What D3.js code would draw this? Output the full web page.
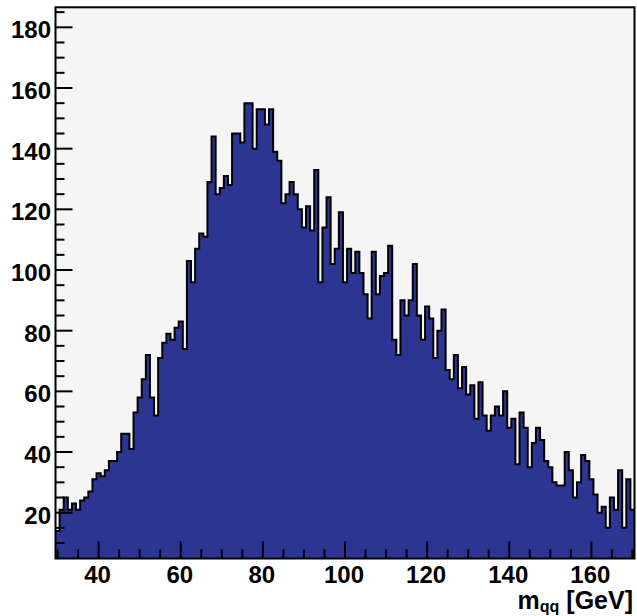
<!DOCTYPE html>
<html>
<head>
<meta charset="utf-8">
<script src="https://cdn.jsdelivr.net/npm/d3@7"></script>
<style>
    body { margin: 0; background: #ffffff; }
    svg text { font-family: "Liberation Sans", Arial, Helvetica, sans-serif; font-weight: bold; fill: #000; }
</style>
</head>
<body>
<svg id="hist_svg"></svg>
<script>
/**
 * Histogram data (1 GeV bins centred on integers)
 */
var binCenters = d3.range(30, 171);     // 30 ... 170 GeV
var binWidth = 1;
var counts = [
    14, 21, 25, 21, 23, 21, 24, 25, 27, 31,     // 30-39
    33, 32, 34, 37, 37, 40, 46, 46, 41, 53,     // 40-49
    58, 64, 72, 58, 52, 71, 76, 79, 77, 81,     // 50-59
    83, 74, 103, 96, 107, 112, 111, 129, 144, 125,  // 60-69
    127, 131, 128, 145, 145, 142, 155, 155, 140, 153, // 70-79
    153, 148, 153, 139, 136, 122, 125, 129, 125, 120, // 80-89
    114, 121, 113, 133, 96, 114, 124, 102, 107, 119,  // 90-99
    96, 107, 99, 106, 99, 92, 84, 106, 92, 98,        // 100-109
    99, 108, 77, 72, 90, 85, 90, 102, 85, 77,         // 110-119
    88, 84, 71, 80, 87, 67, 64, 72, 61, 68,           // 120-129
    59, 62, 51, 63, 52, 47, 52, 55, 52, 60,           // 130-139
    48, 51, 36, 53, 48, 35, 43, 48, 44, 37,           // 140-149
    35, 30, 29, 29, 40, 34, 25, 30, 39, 37,           // 150-159
    31, 26, 20, 22, 15, 25, 21, 34, 15, 31,           // 160-169
    21                                                // 170
];
var xTickLabels = [40, 60, 80, 100, 120, 140, 160];
var yTickLabels = [20, 40, 60, 80, 100, 120, 140, 160, 180];
var xTitle = "m";
var xTitleSub = "qq";
var xTitleUnit = " [GeV]";

var W = 637, H = 616;
var frame = {left: 55.5, right: 634.5, top: 7.3, bottom: 558.5};
var fillColor = "#2c3592";
var padColor = "#f4f5f4";

var svg = d3.select("#hist_svg")
    .attr("width", W)
    .attr("height", H);

var xScale = d3.scaleLinear()
    .domain([29.5, 170.5])
    .range([frame.left, frame.right]);

var yScale = d3.scaleLinear()
    .domain([4.9, 186.6])
    .range([frame.bottom, frame.top]);

// plot background
svg.append("rect")
    .attr("x", frame.left)
    .attr("y", frame.top)
    .attr("width", frame.right - frame.left)
    .attr("height", frame.bottom - frame.top)
    .style("fill", padColor);

svg.append("clipPath")
    .attr("id", "plotClip")
    .append("rect")
    .attr("x", frame.left)
    .attr("y", frame.top)
    .attr("width", frame.right - frame.left)
    .attr("height", frame.bottom - frame.top);

// step points: left edge of every bin, plus the last right edge
var steps = binCenters.map(function(c, i){
    return {x: c - binWidth / 2, y: counts[i]};
});
steps.push({x: binCenters[binCenters.length - 1] + binWidth / 2, y: counts[counts.length - 1]});

var area = d3.area()
    .curve(d3.curveStepAfter)
    .x(function(d){ return xScale(d.x); })
    .y0(frame.bottom)
    .y1(function(d){ return yScale(d.y); });

var outline = d3.line()
    .curve(d3.curveStepAfter)
    .x(function(d){ return xScale(d.x); })
    .y(function(d){ return yScale(d.y); });

var g = svg.append("g").attr("clip-path", "url(#plotClip)");

g.append("path")
    .datum(steps)
    .attr("d", area)
    .style("fill", fillColor)
    .style("stroke", "none");

g.append("path")
    .datum(steps)
    .attr("d", outline)
    .style("fill", "none")
    .style("stroke", "#000")
    .style("stroke-width", 2)
    .style("stroke-linejoin", "miter");

// ticks (ROOT style: drawn inward)
var xMinor = d3.range(30, 171, 5);
var yMinor = d3.range(5, 187, 5);

svg.selectAll(".xtick")
    .data(xMinor)
    .enter()
    .append("line")
    .attr("class", "xtick")
    .attr("x1", function(d){ return xScale(d); })
    .attr("x2", function(d){ return xScale(d); })
    .attr("y1", frame.bottom)
    .attr("y2", function(d){ return frame.bottom - (d % 20 === 0 ? 17 : 9); })
    .style("stroke", "#000")
    .style("stroke-width", 2);

svg.selectAll(".ytick")
    .data(yMinor.filter(function(d){ return yScale(d) < frame.bottom - 1; }))
    .enter()
    .append("line")
    .attr("class", "ytick")
    .attr("y1", function(d){ return yScale(d); })
    .attr("y2", function(d){ return yScale(d); })
    .attr("x1", frame.left)
    .attr("x2", function(d){ return frame.left + (d % 20 === 0 ? 17 : 9); })
    .style("stroke", "#000")
    .style("stroke-width", 2);

// frame
svg.append("rect")
    .attr("x", frame.left)
    .attr("y", frame.top)
    .attr("width", frame.right - frame.left)
    .attr("height", frame.bottom - frame.top)
    .style("fill", "none")
    .style("stroke", "#000")
    .style("stroke-width", 2);

// tick labels
svg.selectAll(".xlab")
    .data(xTickLabels)
    .enter()
    .append("text")
    .attr("class", "xlab")
    .attr("x", function(d){ return xScale(d) - 1; })
    .attr("y", 583)
    .attr("text-anchor", "middle")
    .style("font-size", "24px")
    .text(function(d){ return d; });

svg.selectAll(".ylab")
    .data(yTickLabels)
    .enter()
    .append("text")
    .attr("class", "ylab")
    .attr("x", 51)
    .attr("y", function(d){ return yScale(d) + 11; })
    .attr("text-anchor", "end")
    .style("font-size", "24px")
    .text(function(d){ return d; });

// axis title
var title = svg.append("text")
    .attr("x", 633)
    .attr("y", 609)
    .attr("text-anchor", "end")
    .style("font-size", "25px");
title.append("tspan").text(xTitle);
title.append("tspan")
    .attr("dy", 3)
    .style("font-size", "16px")
    .text(xTitleSub);
title.append("tspan")
    .attr("dy", -3)
    .text(xTitleUnit);
</script>
</body>
</html>
